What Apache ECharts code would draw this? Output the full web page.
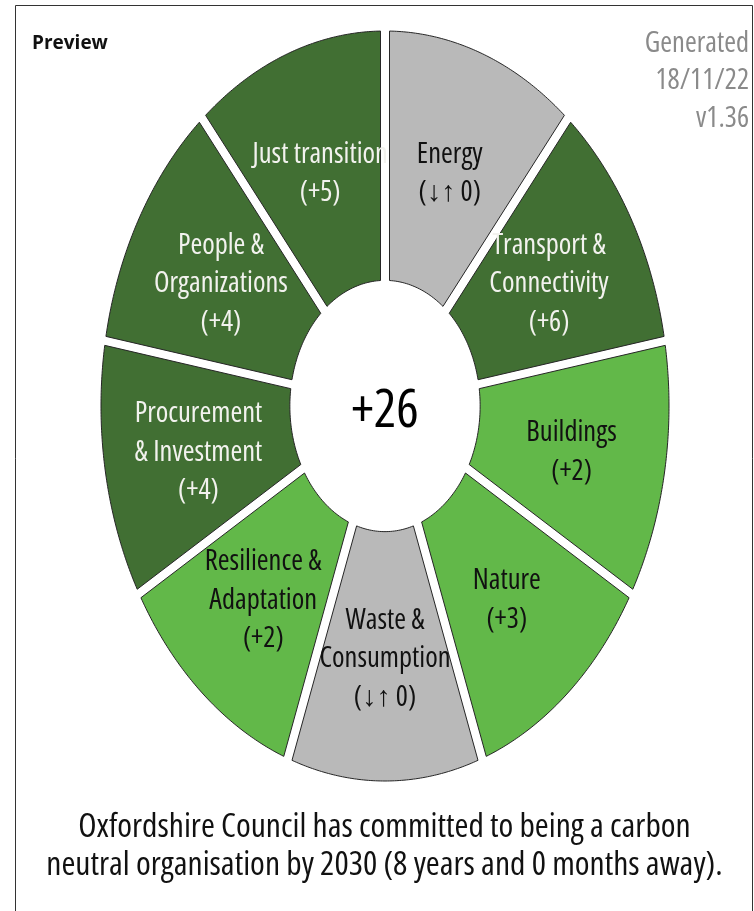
<!DOCTYPE html>
<html><head><meta charset="utf-8">
<script src="https://cdn.jsdelivr.net/npm/echarts@6/dist/echarts.min.js"></script>
<style>html,body{margin:0;padding:0;background:#fff}#c{width:754px;height:911px}</style>
</head><body><div id="c"></div>
<script>
// ---- data ----
const categories = ['Energy', 'Transport &\nConnectivity', 'Buildings', 'Nature', 'Waste &\nConsumption',
  'Resilience &\nAdaptation', 'Procurement\n& Investment', 'People &\nOrganizations', 'Just transition'];
const scores = [0, 6, 2, 3, 0, 2, 4, 4, 5];
const headerLines = ['Generated', '18/11/22', 'v1.36'];
const previewLabel = 'Preview';
const captionLines = ['Oxfordshire Council has committed to being a carbon',
  'neutral organisation by 2030 (8 years and 0 months away).'];

// ---- style ----
function condFont(size) { return "normal normal condensed " + size + "px 'Open Sans', sans-serif"; }
const DARK = '#416f33', LIGHT = '#62b849', GRAY = '#b9b9b9';
const INNER = 0.335, HALF_GAP = 4.5, LABEL_R = 0.667;
const N = categories.length;
const total = scores.reduce((a, b) => a + b, 0);
const totalLabel = (total > 0 ? '+' : '') + total;
function fillFor(s) { return s >= 4 ? DARK : (s > 0 ? LIGHT : GRAY); }
function scoreText(s) { return s === 0 ? '(\u2193\u2191 0)' : '(' + (s > 0 ? '+' : '') + s + ')'; }

function renderSegment(params, api) {
  const i = api.value(0), s = api.value(1);
  const c = api.coord([0, 0]);
  const e = api.coord([1, 1]);
  const rx = e[0] - c[0], ry = c[1] - e[1];
  const step = 2 * Math.PI / N;
  const a0 = i * step, a1 = (i + 1) * step, mid = (a0 + a1) / 2;
  const md = [Math.sin(mid) * rx, -Math.cos(mid) * ry];
  function edgeAngle(theta, R) {
    let ux = Math.sin(theta) * rx, uy = -Math.cos(theta) * ry;
    const L = Math.hypot(ux, uy); ux /= L; uy /= L;
    let nx = -uy, ny = ux;
    if (nx * md[0] + ny * md[1] < 0) { nx = -nx; ny = -ny; }
    const qx = nx * HALF_GAP, qy = ny * HALF_GAP;
    const a = rx * R, b = ry * R;
    const A = ux * ux / (a * a) + uy * uy / (b * b);
    const B = 2 * (qx * ux / (a * a) + qy * uy / (b * b));
    const C = qx * qx / (a * a) + qy * qy / (b * b) - 1;
    const t = (-B + Math.sqrt(B * B - 4 * A * C)) / (2 * A);
    const px = qx + t * ux, py = qy + t * uy;
    let phi = Math.atan2(px / rx, -py / ry);
    while (phi - theta > Math.PI) phi -= 2 * Math.PI;
    while (phi - theta < -Math.PI) phi += 2 * Math.PI;
    return phi;
  }
  function arc(R, from, to, steps) {
    const pts = [];
    for (let k = 0; k <= steps; k++) {
      const p = from + (to - from) * k / steps;
      pts.push(api.coord([R * Math.sin(p), R * Math.cos(p)]));
    }
    return pts;
  }
  const o0 = edgeAngle(a0, 1), o1 = edgeAngle(a1, 1);
  const n0 = edgeAngle(a0, INNER), n1 = edgeAngle(a1, INNER);
  const points = arc(1, o0, o1, 80).concat(arc(INNER, n1, n0, 30));
  const lp = api.coord([LABEL_R * Math.sin(mid), LABEL_R * Math.cos(mid)]);
  return {
    type: 'group',
    children: [
      { type: 'polygon', shape: { points: points },
        style: { fill: fillFor(s), stroke: '#262626', lineWidth: 1 } },
      { type: 'text', x: lp[0], y: lp[1] + 3,
        style: { text: categories[i] + '\n' + scoreText(s), fill: s >= 4 ? '#f2f2ee' : '#111',
          font: condFont(28.5), align: 'center', verticalAlign: 'middle', lineHeight: 38.5 } }
    ]
  };
}

function renderCenter(params, api) {
  const p = api.coord([api.value(0), api.value(1)]);
  return { type: 'text', x: p[0], y: p[1] + 6,
    style: { text: totalLabel, fill: '#000', font: condFont(53), align: 'center', verticalAlign: 'middle' } };
}

const chart = echarts.init(document.getElementById('c'), null, { renderer: 'canvas' });
chart.setOption({
  animation: false,
  backgroundColor: '#fff',
  graphic: [
    { type: 'rect', shape: { x: 15.5, y: 5.5, width: 737, height: 920 },
      style: { fill: 'none', stroke: '#333', lineWidth: 1 }, silent: true },
    { type: 'text', x: 32, y: 44, silent: true,
      style: { text: previewLabel, font: "normal bold 19px 'Open Sans', sans-serif", fill: '#111',
        align: 'left', verticalAlign: 'middle', textAlign: 'left', textVerticalAlign: 'middle' } },
    { type: 'text', x: 749, y: 81, silent: true,
      style: { text: headerLines.join('\n'), font: condFont(28.5), fill: '#8a8a8a', lineHeight: 37.5,
        align: 'right', verticalAlign: 'middle', textAlign: 'right', textVerticalAlign: 'middle' } },
    { type: 'text', x: 384.5, y: 846, silent: true,
      style: { text: captionLines.join('\n'), font: condFont(33.6), fill: '#111', lineHeight: 38,
        align: 'center', verticalAlign: 'middle', textAlign: 'center', textVerticalAlign: 'middle' } }
  ],
  grid: { left: 101, right: 85, top: 31, bottom: 130 },
  xAxis: { type: 'value', min: -1, max: 1, show: false },
  yAxis: { type: 'value', min: -1, max: 1, show: false },
  series: [
    { type: 'custom', renderItem: renderSegment, clip: false,
      data: categories.map((c, i) => [i, scores[i]]) },
    { type: 'custom', renderItem: renderCenter, clip: false, data: [[0, 0]] }
  ]
});
</script>
</body></html>
